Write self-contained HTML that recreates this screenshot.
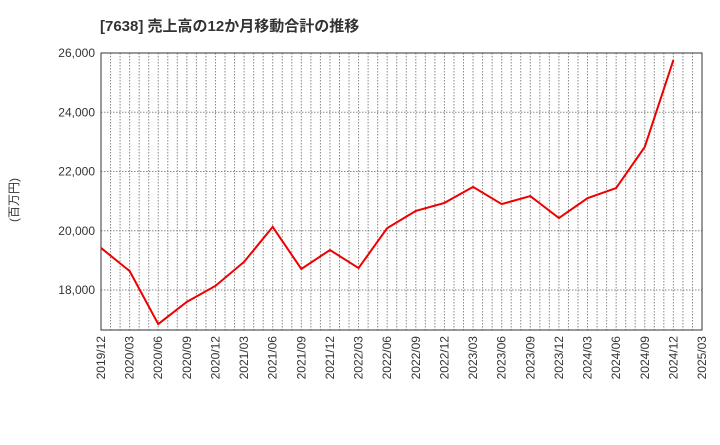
<!DOCTYPE html>
<html><head><meta charset="utf-8"><style>
body{margin:0;background:#fff;font-family:"Liberation Sans","Noto Sans CJK JP",sans-serif;}
</style></head><body>
<svg width="720" height="440" xmlns="http://www.w3.org/2000/svg">
<text x="100" y="31" font-size="15" font-weight="bold" fill="#333" font-family="Liberation Sans, Noto Sans CJK JP, sans-serif">[7638]  売上高の12か月移動合計の推移</text>
<text transform="translate(18,200) rotate(-90)" font-size="12" fill="#333" text-anchor="middle" font-family="Liberation Sans, Noto Sans CJK JP, sans-serif">(百万円)</text>
<g id="grid"></g><g id="axes"></g><g id="series"></g>
</svg>
<script>
const xLabels=["2019/12","2020/03","2020/06","2020/09","2020/12","2021/03","2021/06","2021/09","2021/12","2022/03","2022/06","2022/09","2022/12","2023/03","2023/06","2023/09","2023/12","2024/03","2024/06","2024/09","2024/12","2025/03"];
const values=[19420,18640,16850,17600,18140,18950,20130,18710,19350,18740,20090,20670,20940,21480,20900,21170,20430,21100,21440,22830,25760];
const yTicks=[18000,20000,22000,24000,26000];
const L=101,R=702,T=53,B=330,yMax=26000,yMin=18000-40/59.25*2000;
const ns="http://www.w3.org/2000/svg";
const xq=i=>L+(R-L)*i/(xLabels.length-1);
const y=v=>T+(yMax-v)/(yMax-yMin)*(B-T);
function mk(t,a,p){const e=document.createElementNS(ns,t);for(const k in a)e.setAttribute(k,a[k]);p.appendChild(e);return e;}
const g=document.getElementById('grid'),ax=document.getElementById('axes'),s=document.getElementById('series');
const nMonths=(xLabels.length-1)*3;
for(let m=1;m<nMonths;m++){const x=L+(R-L)*m/nMonths;
const l=mk('line',{x1:x,x2:x,y1:T,y2:B,stroke:'#888','stroke-dasharray':'1.5,1.5','stroke-width':1},g);

}
yTicks.forEach(v=>{const yy=y(v);
const l=mk('line',{x1:L,x2:R,y1:yy,y2:yy,stroke:'#888','stroke-dasharray':'1.5,1.5'},g);


const t=mk('text',{x:L-6,y:yy+4,'text-anchor':'end','font-size':12,fill:'#333'},ax);t.textContent=v.toLocaleString('en-US');

});
const fr=mk('rect',{x:L,y:T,width:R-L,height:B-T,fill:'none',stroke:'#333','stroke-width':1},ax);


xLabels.forEach((lab,i)=>{const x=xq(i);
const t=mk('text',{transform:`translate(${x+4},${B+6}) rotate(-90)`,'text-anchor':'end','font-size':12,fill:'#333'},ax);t.textContent=lab;

});
const pl=mk('polyline',{points:values.map((v,i)=>xq(i)+','+y(v)).join(' '),fill:'none',stroke:'#e00','stroke-width':2},s);


</script>
</body></html>
